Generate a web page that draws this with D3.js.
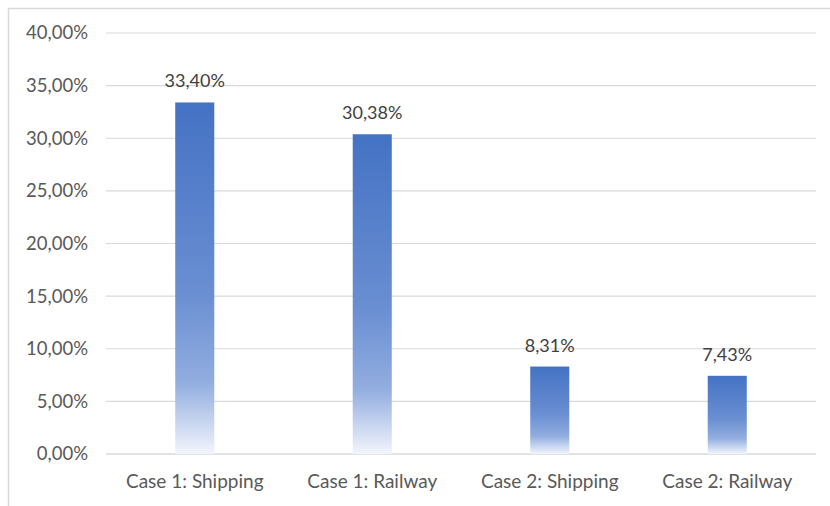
<!DOCTYPE html>
<meta charset="utf-8">
<style>
body { margin: 0; background: #fff; }
text { font-family: Lato, "Open Sans", sans-serif; }
</style>
<body>
<script src="https://cdn.jsdelivr.net/npm/d3@7"></script>
<script>
// chart data
var categories = ["Case 1: Shipping", "Case 1: Railway", "Case 2: Shipping", "Case 2: Railway"];
var values = [33.40, 30.38, 8.31, 7.43];
var yTicks = [0, 5, 10, 15, 20, 25, 30, 35, 40];

var W = 830, H = 506;
var margin = {top: 33, right: 14, bottom: 52, left: 106};
var width = 816 - margin.left,
    height = 454 - margin.top;

var fmt = function(v) { return d3.format(".2f")(v).replace(".", ",") + "%"; };

var svg = d3.select("body").append("svg")
    .attr("width", W)
    .attr("height", H);

// outer frame
svg.append("rect")
    .attr("x", 8.5).attr("y", 8.5)
    .attr("width", W + 10).attr("height", H + 10)
    .attr("fill", "none")
    .attr("stroke", "#d9d9d9")
    .attr("stroke-width", 1.5);

// bar gradient
var grad = svg.append("defs").append("linearGradient")
    .attr("id", "barGrad")
    .attr("x1", 0).attr("y1", 0).attr("x2", 0).attr("y2", 1);
grad.append("stop").attr("offset", "0%").attr("stop-color", "#4472c4");
grad.append("stop").attr("offset", "55%").attr("stop-color", "#6a8fd2");
grad.append("stop").attr("offset", "80%").attr("stop-color", "#93aee0");
grad.append("stop").attr("offset", "100%").attr("stop-color", "#f2f5fc");

var g = svg.append("g")
    .attr("transform", "translate(" + margin.left + "," + margin.top + ")");

var x = d3.scaleBand().domain(categories).range([0, width]).paddingInner(0.78).paddingOuter(0.39);
var y = d3.scaleLinear().domain([0, 40]).range([height, 0]);

// gridlines
g.append("g")
    .selectAll("line")
    .data(yTicks)
  .enter().append("line")
    .attr("x1", 0).attr("x2", width)
    .attr("y1", function(d) { return y(d); })
    .attr("y2", function(d) { return y(d); })
    .attr("stroke", "#d9d9d9")
    .attr("stroke-width", function(d) { return d === 0 ? 1.5 : 1.2; });

// y axis labels
var yAxis = g.append("g")
    .call(d3.axisLeft(y).tickValues(yTicks).tickFormat(function(d) { return fmt(d); }).tickSize(0).tickPadding(18));
yAxis.select(".domain").remove();
yAxis.selectAll("text")
    .attr("fill", "#595959")
    .style("font-size", "18.5px");

// x axis labels
var xAxis = g.append("g")
    .attr("transform", "translate(0," + height + ")")
    .call(d3.axisBottom(x).tickSize(0).tickPadding(21));
xAxis.select(".domain").remove();
xAxis.selectAll("text")
    .attr("fill", "#595959")
    .style("font-size", "19px");

// bars
g.selectAll(".bar")
    .data(values)
  .enter().append("rect")
    .attr("class", "bar")
    .attr("x", function(d, i) { return x(categories[i]); })
    .attr("width", x.bandwidth())
    .attr("y", function(d) { return y(d); })
    .attr("height", function(d) { return height - y(d); })
    .attr("fill", "url(#barGrad)");

// value labels
g.selectAll(".val")
    .data(values)
  .enter().append("text")
    .attr("class", "val")
    .attr("x", function(d, i) { return x(categories[i]) + x.bandwidth() / 2; })
    .attr("y", function(d) { return y(d) - 15; })
    .attr("text-anchor", "middle")
    .attr("fill", "#404040")
    .style("font-size", "18px")
    .text(function(d) { return fmt(d); });
</script>
</body>
